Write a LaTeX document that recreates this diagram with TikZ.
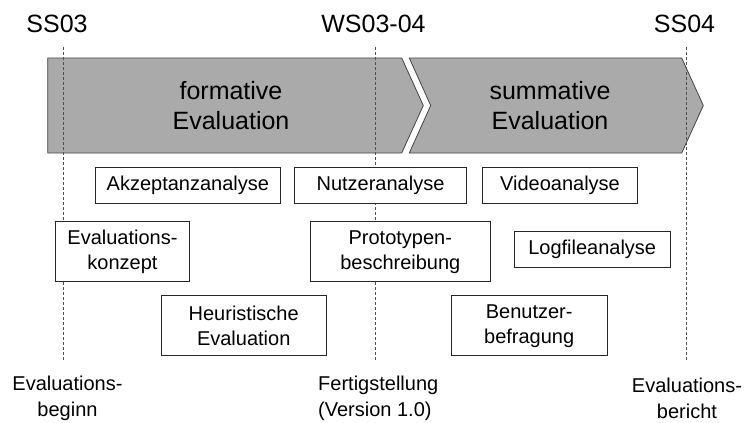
\documentclass[tikz,border=0pt]{standalone}
\usepackage{fontspec}
\setmainfont{Liberation Sans}
\definecolor{arrowgray}{HTML}{AAAAAA}
\definecolor{edgegray}{HTML}{444444}
\definecolor{dashgray}{HTML}{505050}
\begin{document}
\begin{tikzpicture}[x=1bp,y=-1bp,
  task/.style={draw=black!85, fill=white, line width=0.8bp, align=center,
    font=\fontsize{20bp}{25bp}\selectfont, inner sep=0pt},
  phase/.style={fill=arrowgray, draw=edgegray, line width=0.8bp},
  phasetext/.style={align=center, font=\fontsize{25bp}{30bp}\selectfont, inner sep=0pt},
  semester/.style={font=\fontsize{25bp}{30bp}\selectfont, inner sep=0pt},
  event/.style={font=\fontsize{20bp}{26bp}\selectfont, inner sep=0pt},
  milestone/.style={draw=dashgray, line width=0.8bp, dash pattern=on 3bp off 2bp}
]
\useasboundingbox (0,0) rectangle (747,422);

% phase arrows
\draw[phase] (47.7,58) -- (401.7,58) -- (423.3,105.5) -- (401.7,153) -- (47.7,153) -- cycle;
\draw[phase] (409.3,58) -- (681.7,58) -- (703.3,105.5) -- (681.7,153) -- (409.3,153) -- (430.7,105.5) -- cycle;
\node[phasetext] (formative) at (231,106) {formative\\Evaluation};
\node[phasetext] (summative) at (550,106) {summative\\Evaluation};

% semester labels
\node[semester] (ss03) at (57,24) {SS03};
\node[semester] (ws0304) at (373.5,24) {WS03-04};
\node[semester] (ss04) at (684.5,24) {SS04};

% milestone lines
\coordinate (m1t) at (63.3,47);  \coordinate (m1b) at (63.3,360);
\coordinate (m2t) at (375,47);   \coordinate (m2b) at (375,360);
\coordinate (m3t) at (686,47);   \coordinate (m3b) at (686,360);
\draw[milestone] (m1t) -- (m1b);
\draw[milestone] (m2t) -- (m2b);
\draw[milestone] (m3t) -- (m3b);

% tasks
\node[task, minimum width=185.7bp, minimum height=36bp] (akz) at (187.9,185.3) {Akzeptanzanalyse};
\node[task, minimum width=172.4bp, minimum height=36bp] (nutz) at (380.5,185.3) {Nutzeranalyse};
\node[task, minimum width=155.4bp, minimum height=36bp] (video) at (560,185.3) {Videoanalyse};
\node[task, minimum width=133.6bp, minimum height=60bp] (konz) at (122.5,251.7) {Evaluations-\\konzept};
\node[task, minimum width=180.7bp, minimum height=60bp] (proto) at (400.3,251.7) {Prototypen-\\beschreibung};
\node[task, minimum width=155.7bp, minimum height=35.6bp] (log) at (592.2,249.5) {Logfileanalyse};
\node[task, minimum width=164.7bp, minimum height=60bp] (heur) at (243.7,325.7) {Heuristische\\Evaluation};
\node[task, minimum width=156.3bp, minimum height=60bp] (befr) at (529.2,325.7) {Benutzer-\\befragung};

% events
\node[event, align=center] (beginn) at (67.5,398) {Evaluations-\\beginn};
\node[event, align=left, anchor=west] (fertig) at (318,398) {Fertigstellung\\(Version 1.0)};
\node[event, align=center] (bericht) at (687,398) {Evaluations-\\bericht};
\end{tikzpicture}
\end{document}
